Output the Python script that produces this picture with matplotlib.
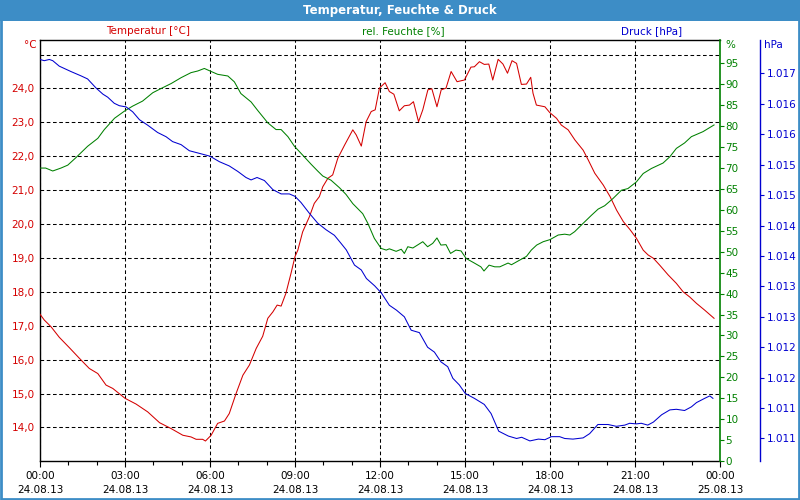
import math
import numpy as np
import matplotlib
matplotlib.use("Agg")
import matplotlib.pyplot as plt
from matplotlib.patches import Rectangle
from matplotlib.ticker import FixedLocator, FuncFormatter, MultipleLocator

# ---------------- data ----------------
temp_hours = [0.0, 0.15, 0.39, 0.68, 1.04, 1.39, 1.74, 2.04, 2.33, 2.57, 3.0, 3.39, 3.8, 4.22,
              4.62, 5.04, 5.33, 5.51, 5.74, 5.84, 6.04, 6.27, 6.51, 6.68, 6.92, 7.16, 7.39,
              7.63, 7.86, 8.04, 8.22, 8.37, 8.51, 8.68, 8.86, 9.0, 9.1, 9.27, 9.51, 9.68,
              9.86, 9.98, 10.16, 10.33, 10.51, 10.75, 11.04, 11.16, 11.34, 11.51, 11.69,
              11.83, 11.98, 12.18, 12.33, 12.49, 12.68, 12.86, 13.04, 13.18, 13.36, 13.51,
              13.69, 13.83, 14.01, 14.16, 14.33, 14.51, 14.72, 14.98, 15.21, 15.33, 15.51,
              15.68, 15.84, 15.98, 16.17, 16.34, 16.5, 16.66, 16.82, 16.99, 17.17, 17.32,
              17.4, 17.52, 17.82, 17.99, 18.23, 18.4, 18.64, 18.88, 19.17, 19.35, 19.58,
              19.88, 20.12, 20.35, 20.59, 20.82, 21.05, 21.29, 21.46, 21.65, 21.87, 22.17,
              22.46, 22.7, 22.93, 23.17, 23.46, 23.79]
temperature = [17.34, 17.17, 16.97, 16.66, 16.35, 16.04, 15.74, 15.59, 15.25, 15.15, 14.86,
               14.69, 14.46, 14.14, 13.97, 13.77, 13.72, 13.65, 13.65, 13.60, 13.77, 14.12,
               14.19, 14.41, 15.00, 15.54, 15.84, 16.33, 16.69, 17.22, 17.41, 17.61, 17.58,
               17.96, 18.55, 19.04, 19.23, 19.77, 20.22, 20.61, 20.81, 21.10, 21.35, 21.45,
               21.94, 22.33, 22.78, 22.63, 22.30, 23.02, 23.32, 23.37, 24.01, 24.17, 23.91,
               23.83, 23.34, 23.49, 23.51, 23.61, 23.02, 23.37, 23.96, 23.99, 23.46, 23.96,
               24.01, 24.50, 24.20, 24.25, 24.63, 24.64, 24.79, 24.71, 24.72, 24.25, 24.86,
               24.72, 24.45, 24.82, 24.74, 24.12, 24.13, 24.33, 23.86, 23.51, 23.46, 23.29,
               23.12, 22.92, 22.78, 22.48, 22.18, 21.89, 21.50, 21.15, 20.81, 20.41, 20.07,
               19.84, 19.58, 19.23, 19.09, 18.99, 18.79, 18.50, 18.25, 18.00, 17.85, 17.66,
               17.46, 17.22]

hum_hours = [0.0, 0.2, 0.45, 0.74, 0.98, 1.27, 1.68, 2.04, 2.27, 2.63, 3.0, 3.27, 3.62, 3.98,
             4.27, 4.63, 4.98, 5.33, 5.57, 5.8, 6.0, 6.27, 6.63, 6.86, 7.09, 7.45, 7.68, 8.04,
             8.33, 8.51, 8.75, 8.98, 9.27, 9.57, 9.8, 9.98, 10.27, 10.57, 10.8, 11.04, 11.39,
             11.57, 11.8, 12.04, 12.22, 12.33, 12.57, 12.75, 12.86, 12.98, 13.16, 13.51,
             13.68, 13.86, 14.01, 14.15, 14.33, 14.49, 14.68, 14.86, 15.04, 15.33, 15.56,
             15.67, 15.85, 16.05, 16.23, 16.52, 16.64, 16.93, 17.17, 17.34, 17.53, 17.76,
             18.0, 18.29, 18.52, 18.7, 18.87, 19.17, 19.46, 19.7, 19.93, 20.22, 20.52, 20.75,
             21.05, 21.29, 21.58, 21.99, 22.23, 22.46, 22.75, 22.99, 23.4, 23.79]
humidity = [70.0, 70.0, 69.3, 70.0, 70.7, 72.5, 75.2, 77.1, 79.2, 81.9, 83.7, 84.8, 86.0, 88.0,
            89.0, 90.2, 91.6, 92.8, 93.2, 93.8, 93.2, 92.4, 92.0, 90.6, 87.8, 85.8, 83.8, 80.8,
            79.2, 79.2, 77.5, 75.2, 73.1, 70.9, 69.3, 68.1, 67.1, 65.3, 63.7, 61.5, 59.1,
            56.8, 53.2, 50.8, 50.4, 50.7, 50.1, 50.6, 49.6, 51.2, 50.9, 52.4, 51.2, 52.0,
            53.3, 51.6, 51.7, 49.6, 50.4, 50.2, 48.4, 47.3, 46.4, 45.4, 46.8, 46.4, 46.4,
            47.3, 46.9, 48.0, 48.9, 50.4, 51.6, 52.4, 52.9, 54.0, 54.2, 54.0, 54.8, 56.8,
            58.7, 60.2, 61.0, 62.7, 64.7, 65.1, 66.7, 68.7, 69.9, 71.2, 72.7, 74.7, 76.0,
            77.5, 78.7, 80.3]

press_hours = [0.0, 0.15, 0.33, 0.45, 0.68, 1.1, 1.45, 1.68, 1.98, 2.22, 2.39, 2.62, 2.8, 3.04,
               3.27, 3.51, 3.8, 4.15, 4.45, 4.68, 4.98, 5.27, 5.68, 6.0, 6.33, 6.68, 6.98,
               7.27, 7.45, 7.66, 7.92, 8.1, 8.22, 8.51, 8.8, 9.0, 9.21, 9.51, 9.8, 10.1, 10.39,
               10.62, 10.81, 11.1, 11.34, 11.52, 11.81, 12.05, 12.33, 12.58, 12.86, 13.1,
               13.39, 13.68, 13.92, 14.15, 14.39, 14.57, 14.8, 15.01, 15.33, 15.68, 15.92,
               16.19, 16.53, 16.82, 17.0, 17.29, 17.59, 17.82, 18.05, 18.34, 18.52, 18.81,
               19.17, 19.4, 19.69, 20.05, 20.34, 20.64, 20.81, 21.05, 21.22, 21.45, 21.65,
               21.94, 22.23, 22.46, 22.75, 22.99, 23.17, 23.46, 23.64, 23.75]
pressure = [1016.73, 1016.71, 1016.73, 1016.71, 1016.62, 1016.53, 1016.46, 1016.41, 1016.26,
            1016.16, 1016.11, 1016.01, 1015.97, 1015.95, 1015.87, 1015.74, 1015.65, 1015.53,
            1015.46, 1015.38, 1015.33, 1015.23, 1015.18, 1015.14, 1015.05, 1014.98, 1014.89,
            1014.79, 1014.75, 1014.79, 1014.74, 1014.65, 1014.59, 1014.52, 1014.52, 1014.48,
            1014.38, 1014.20, 1014.04, 1013.93, 1013.84, 1013.71, 1013.60, 1013.35, 1013.27,
            1013.13, 1013.01, 1012.89, 1012.69, 1012.61, 1012.50, 1012.28, 1012.24, 1012.00,
            1011.92, 1011.76, 1011.68, 1011.49, 1011.38, 1011.24, 1011.16, 1011.06, 1010.91,
            1010.62, 1010.54, 1010.50, 1010.52, 1010.46, 1010.49, 1010.48, 1010.53, 1010.53,
            1010.50, 1010.49, 1010.51, 1010.58, 1010.73, 1010.73, 1010.70, 1010.72, 1010.75,
            1010.74, 1010.75, 1010.72, 1010.77, 1010.89, 1010.97, 1010.98, 1010.96, 1011.02,
            1011.09, 1011.16, 1011.20, 1011.16]

x_ticks = [0, 3, 6, 9, 12, 15, 18, 21, 24]
x_labels = ["00:00\n24.08.13", "03:00\n24.08.13", "06:00\n24.08.13", "09:00\n24.08.13",
            "12:00\n24.08.13", "15:00\n24.08.13", "18:00\n24.08.13", "21:00\n24.08.13",
            "00:00\n25.08.13"]
temp_ticks = [14, 15, 16, 17, 18, 19, 20, 21, 22, 23, 24, 25]
temp_labels = ["14,0", "15,0", "16,0", "17,0", "18,0", "19,0", "20,0", "21,0", "22,0",
               "23,0", "24,0", ""]
hum_ticks = list(range(0, 100, 5))
press_ticks = [1010.5, 1011.0, 1011.5, 1012.0, 1012.5, 1013.0, 1013.5, 1014.0, 1014.5,
               1015.0, 1015.5, 1016.0, 1016.5]

# ---------------- style ----------------
RED = "#d40000"
GREEN = "#008000"
BLUE = "#0000d0"
FRAME = "#3d8dc6"
W, H = 800, 500
plt.rcParams['font.family'] = ['DejaVu Sans']
FS = 7.5
LW = 0.75

fig = plt.figure(figsize=(8, 5), dpi=100)
fig.patch.set_facecolor("white")

def fx(px):
    return px / W

def fy(py):
    return 1 - py / H

# title bar and frame
fig.patches.append(Rectangle((0, fy(21)), 1, 21 / H, transform=fig.transFigure,
                             facecolor=FRAME, edgecolor="none", zorder=0))
fig.patches.append(Rectangle((0.001, 0.002), 0.998, 0.996, transform=fig.transFigure,
                             facecolor="none", edgecolor=FRAME, linewidth=2, zorder=0))
fig.text(0.5, fy(10.5), "Temperatur, Feuchte & Druck", color="white", fontsize=8.5,
         fontweight="bold", ha="center", va="center")

# main axes
ax = fig.add_axes([fx(40), 1 - 461 / H, 680 / W, 421 / H])
ax.set_facecolor("white")
ax.plot(temp_hours, temperature, color=RED, lw=LW, zorder=3)
ax.set_xlim(0, 24)
ax.set_ylim(13.01, 25.43)
ax.set_xticks(x_ticks)
ax.set_xticklabels(x_labels, fontsize=FS, linespacing=1.5)
ax.xaxis.set_minor_locator(MultipleLocator(1))
ax.tick_params(axis="x", which="major", length=4, width=0.8, pad=3, color="black")
ax.tick_params(axis="x", which="minor", length=3, width=0.8, color="black")
ax.set_yticks(temp_ticks)
ax.set_yticklabels(temp_labels, fontsize=FS, color=RED)
ax.tick_params(axis="y", length=0, pad=4)
ax.grid(True, which="major", color="black", linestyle=(0, (3.5, 2.5)), linewidth=0.75)
for s in ["left", "bottom", "top"]:
    ax.spines[s].set_color("black")
    ax.spines[s].set_linewidth(1.0)
ax.spines["right"].set_visible(False)

# humidity axis
ax2 = ax.twinx()
ax2.plot(hum_hours, humidity, color=GREEN, lw=LW, zorder=3)
ax2.set_ylim(0, 100.6)
ax2.yaxis.set_major_locator(FixedLocator(hum_ticks))
ax2.tick_params(axis="y", length=3, width=0.8, pad=1, colors=GREEN, labelsize=FS)
for s in ["left", "bottom", "top"]:
    ax2.spines[s].set_visible(False)
ax2.spines["right"].set_color(GREEN)
ax2.spines["right"].set_linewidth(1.2)

# pressure axis
ax3 = ax.twinx()
ax3.plot(press_hours, pressure, color=BLUE, lw=LW, zorder=3)
ax3.set_ylim(1010.13, 1017.05)
ax3.spines["right"].set_position(("axes", 720 / 680))
for s in ["left", "bottom", "top"]:
    ax3.spines[s].set_visible(False)
ax3.spines["right"].set_color(BLUE)
ax3.spines["right"].set_linewidth(1.0)
ax3.yaxis.set_major_locator(FixedLocator(press_ticks))
ax3.yaxis.set_major_formatter(FuncFormatter(
    lambda v, p: "1.%03d" % (int(math.floor(v + 0.5 + 1e-9)) - 1000)))
ax3.tick_params(axis="y", length=3, width=0.8, pad=2, colors=BLUE, labelsize=FS)

# header texts
fig.text(fx(148), fy(31), "Temperatur [°C]", color=RED, fontsize=FS, ha="center", va="center")
fig.text(fx(403), fy(31), "rel. Feuchte [%]", color=GREEN, fontsize=FS, ha="center", va="center")
fig.text(fx(652), fy(31), "Druck [hPa]", color=BLUE, fontsize=FS, ha="center", va="center")
fig.text(fx(37), fy(45), "°C", color=RED, fontsize=FS, ha="right", va="center")
fig.text(fx(725), fy(45), "%", color=GREEN, fontsize=FS, ha="left", va="center")
fig.text(fx(764), fy(45), "hPa", color=BLUE, fontsize=FS, ha="left", va="center")

fig.savefig("out.png", dpi=100)
